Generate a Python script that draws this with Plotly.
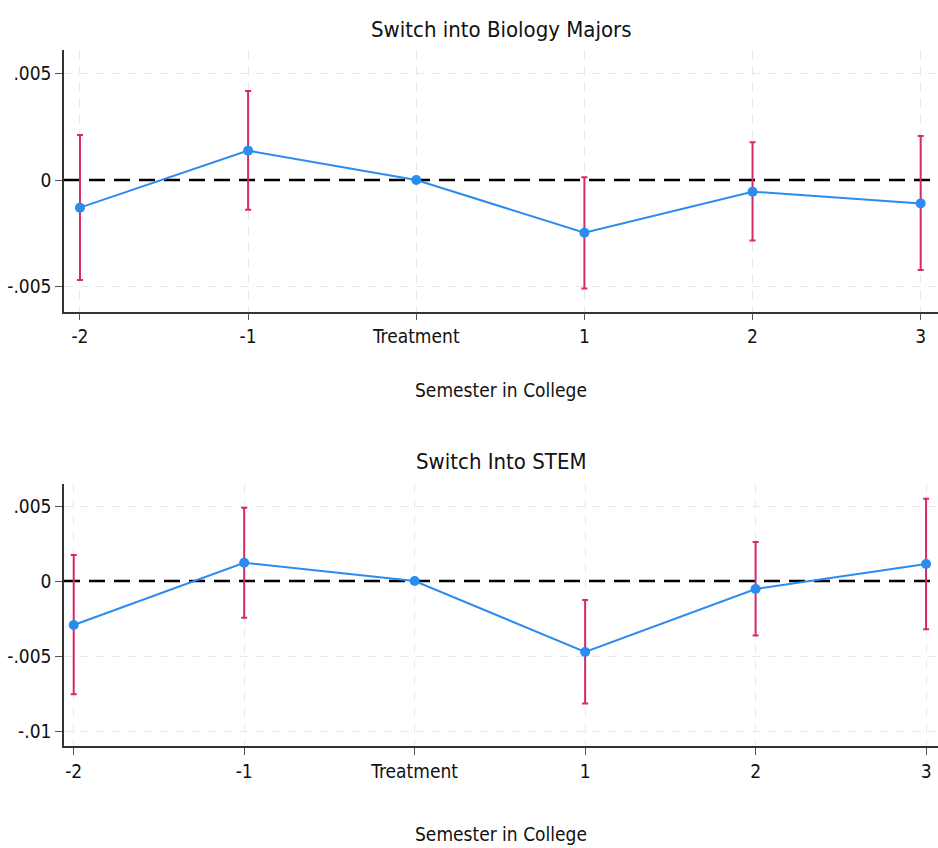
import plotly.graph_objects as go

# Event-study estimates by semester relative to treatment
semesters = ["-2", "-1", "Treatment", "1", "2", "3"]
positions = [0, 1, 2, 3, 4, 5]

bio_coef = [-0.0013, 0.00138, 0.0, -0.00248, -0.00055, -0.0011]
bio_ci_low = [-0.0047, -0.0014, 0.0, -0.0051, -0.00284, -0.00423]
bio_ci_high = [0.00212, 0.00418, 0.0, 0.00013, 0.00177, 0.00207]

stem_coef = [-0.00293, 0.00122, 0.0, -0.00473, -0.00053, 0.00113]
stem_ci_low = [-0.00755, -0.00245, 0.0, -0.00816, -0.00364, -0.00322]
stem_ci_high = [0.00173, 0.00489, 0.0, -0.00127, 0.0026, 0.00549]

bio_ticks = [0.005, 0.0, -0.005]
bio_ticktext = [".005", "0", "-.005"]
stem_ticks = [0.005, 0.0, -0.005, -0.01]
stem_ticktext = [".005", "0", "-.005", "-.01"]

FONT = "DejaVu Sans Condensed, Liberation Sans Narrow, Roboto, sans-serif"
LINE_BLUE = "#2b8cef"
CI_RED = "#d6286a"
GRID = "#e8e8e8"
GRID_DASH = "9px,7px"

W, H = 938, 848
TOP_DOM = [1 - 311.7 / H, 1 - 50 / H]
BOT_DOM = [1 - 746 / H, 1 - 484 / H]

fig = go.Figure()


def add_panel(coef, lo, hi, xa, ya):
    fig.add_trace(go.Scatter(
        x=positions, y=coef, mode="lines+markers",
        xaxis=xa, yaxis=ya,
        line=dict(color=LINE_BLUE, width=2),
        marker=dict(color=LINE_BLUE, size=10),
        error_y=dict(
            type="data", symmetric=False,
            array=[h - c for h, c in zip(hi, coef)],
            arrayminus=[c - l for c, l in zip(coef, lo)],
            color=CI_RED, thickness=2, width=3,
        ),
        showlegend=False, hoverinfo="skip",
    ))


add_panel(bio_coef, bio_ci_low, bio_ci_high, "x", "y")
add_panel(stem_coef, stem_ci_low, stem_ci_high, "x2", "y2")

axis_common = dict(
    showline=True, linecolor="#333333", linewidth=1.5,
    ticks="outside", ticklen=7, tickcolor="#555555", tickwidth=1,
    zeroline=False,
    tickfont=dict(family=FONT, size=19, color="#111111"),
)
x_grid = dict(showgrid=True, gridcolor=GRID, gridwidth=1, griddash=GRID_DASH)


def y_grid(ticks):
    # horizontal grid on the non-zero ticks; zero gets its own dashed line
    return dict(showgrid=False,
                minor=dict(tickvals=[t for t in ticks if t != 0], ticks="",
                           showgrid=True, gridcolor=GRID, gridwidth=1,
                           griddash=GRID_DASH))


fig.update_layout(
    width=W, height=H,
    margin=dict(l=64, r=0, t=0, b=0),
    paper_bgcolor="white", plot_bgcolor="white",
    font=dict(family=FONT, color="#111111"),
    xaxis=dict(domain=[0, 1], anchor="y", range=[-0.095, 5.103],
               tickvals=positions, ticktext=semesters, **x_grid, **axis_common),
    yaxis=dict(domain=TOP_DOM, anchor="x", range=[-0.00619, 0.00611],
               tickvals=bio_ticks, ticktext=bio_ticktext,
               **y_grid(bio_ticks), **axis_common),
    xaxis2=dict(domain=[0, 1], anchor="y2", range=[-0.057, 5.07],
                tickvals=positions, ticktext=semesters, **x_grid, **axis_common),
    yaxis2=dict(domain=BOT_DOM, anchor="x2", range=[-0.011, 0.00647],
                tickvals=stem_ticks, ticktext=stem_ticktext,
                **y_grid(stem_ticks), **axis_common),
)

# Reference line at zero in each panel
for xr, yr in (("x", "y"), ("x2", "y2")):
    fig.add_shape(type="line", xref=f"{xr} domain", yref=yr,
                  x0=0, x1=1, y0=0, y1=0,
                  line=dict(color="black", width=2.5, dash="16px,9px"),
                  layer="below")

# Panel titles and axis titles
texts = [
    ("Switch into Biology Majors", 30, 22),
    ("Semester in College", 390, 19),
    ("Switch Into STEM", 462, 22),
    ("Semester in College", 834, 19),
]
for txt, ypx, size in texts:
    fig.add_annotation(text=txt, xref="paper", yref="paper",
                       x=0.5, y=1 - ypx / H, xanchor="center", yanchor="middle",
                       showarrow=False,
                       font=dict(family=FONT, size=size, color="#111111"))

fig.write_html("out.html")
